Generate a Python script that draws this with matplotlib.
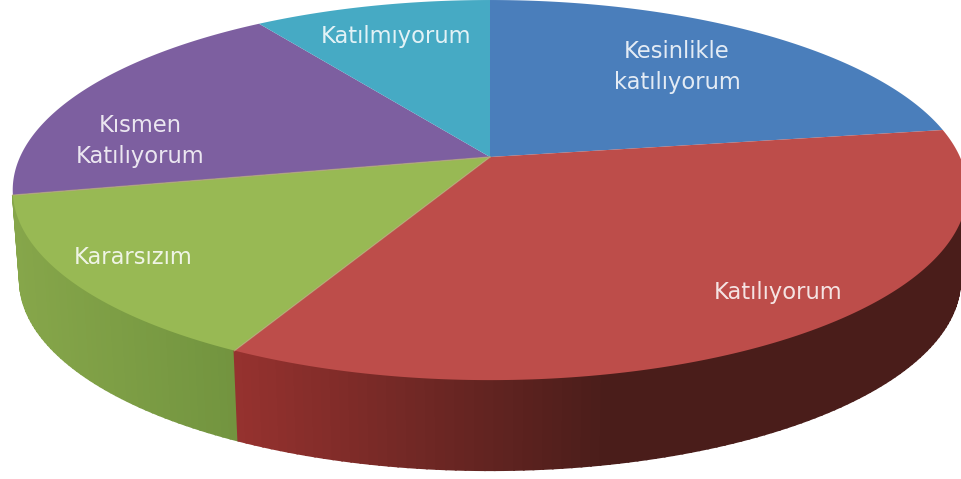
import matplotlib
matplotlib.use("Agg")
import matplotlib.pyplot as plt
import matplotlib.colors as mcolors
import numpy as np

# slices, clockwise from 12 o'clock
names = ["Kesinlikle\nkatılıyorum", "Katılıyorum", "Kararsızım", "Kısmen\nKatılıyorum", "Katılmıyorum"]
values = [22.6, 35.0, 14.2, 18.7, 9.5]
top_colors = ["#4a7ebb", "#bd4d4a", "#98b954", "#7d5fa0", "#46aac4"]
# side wall colours, left end and right end of the visible rim
wall_left = ["#345a86", "#96322f", "#86a64a", "#5a4374", "#31798c"]
wall_right = ["#345a86", "#4a1d1a", "#72943f", "#5a4374", "#31798c"]

label_x = [677, 778, 133, 140, 396]
label_y = [67, 292, 258, 141, 36]

# projection of the unit circle on to the picture
cx, cy = 490, 157
rx, ry = 470, 184.3
k = 0.174
depth = 90
shrink = 0.985


def project(theta):
    t = np.radians(theta)
    X, Y = np.cos(t), np.sin(t)
    w = 1 + k * Y
    return cx + rx * X / w, cy - ry * Y / w


fig = plt.figure(figsize=(9.62, 4.79), dpi=100)
ax = fig.add_axes([0, 0, 1, 1])

wedges, _ = ax.pie(values, colors=top_colors, startangle=90, counterclock=False)
ax.set_aspect("auto")
ax.set_xlim(0, 962)
ax.set_ylim(479, 0)
ax.axis("off")

# rim first, thin strips so the shading can change along it
# only the red and green slices show a rim
rim_to = 352
for i in [2, 1]:
    w = wedges[i]
    c1, c2 = mcolors.to_rgb(wall_left[i]), mcolors.to_rgb(wall_right[i])
    lo, hi = w.theta1, w.theta2
    # the red slice wraps past 0 degrees
    if lo < 0:
        lo, hi = lo + 360, hi + 360
    hi = min(hi, rim_to)
    steps = np.linspace(lo, hi, int(hi - lo) + 2)
    for t1, t2 in zip(steps[:-1], steps[1:]):
        ts = np.linspace(t1, t2, 4)
        x, y = project(ts)
        xb = cx + (x - cx) * shrink
        pos = (x[0] - 232) / 370 if i == 1 else (x[0] - 15) / 217
        pos = np.clip(pos, 0, 1)
        col = (1 - pos) * np.array(c1) + pos * np.array(c2)
        ax.fill(np.r_[x, xb[::-1]], np.r_[y, y[::-1] + depth], color=col, lw=1.4, zorder=1)

# top face, the pie's wedges bent through the projection
for w, c in zip(wedges, top_colors):
    ts = np.linspace(w.theta1, w.theta2, 200)
    x, y = project(ts)
    w.set_visible(False)
    ax.fill(np.r_[cx, x], np.r_[cy, y], color=c, lw=0, zorder=2)

# tan seams round the green slice
for t in [wedges[2].theta1, wedges[2].theta2]:
    x, y = project(t)
    ax.plot([cx, x], [cy, y], color="#b5a878", lw=1.0, alpha=0.7, zorder=2.5)

for name, x, y in zip(names, label_x, label_y):
    ax.text(x, y, name, color="white", alpha=0.85, ha="center", va="center", fontsize=16.3,
            family="DejaVu Sans", linespacing=1.42, zorder=3)

fig.savefig("out.png", dpi=100, facecolor="white")
